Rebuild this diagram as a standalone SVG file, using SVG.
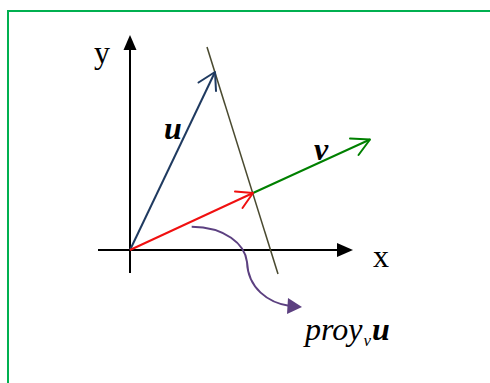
<svg xmlns="http://www.w3.org/2000/svg" width="490" height="383" viewBox="0 0 490 383">
<style>
.lbl{font-family:"Liberation Serif","Times New Roman",serif;font-size:32px;fill:#000}
.it{font-style:italic}
.bi{font-style:italic;font-weight:bold}
.open{fill:none;stroke-width:2;stroke-linecap:round;stroke-linejoin:round}
</style>
<rect x="0" y="0" width="490" height="383" fill="#fff"/>
<rect x="8" y="11" width="520" height="420" fill="none" stroke="#00b050" stroke-width="2"/>
<g id="axes">
<line x1="130" y1="273" x2="130" y2="48" stroke="#000" stroke-width="2"/>
<polygon points="130,35 123.5,50 136.5,50" fill="#000"/>
<line x1="98" y1="250" x2="340" y2="250" stroke="#000" stroke-width="2"/>
<polygon points="353,250 337,243 337,257" fill="#000"/>
<text class="lbl" x="94" y="63">y</text>
<text class="lbl" x="373" y="267">x</text>
</g>
<g id="connectors">
<line id="perp" x1="207" y1="47" x2="278" y2="274" stroke="#4a4a30" stroke-width="1.5"/>
<g id="vec-u">
<line x1="130" y1="250" x2="215" y2="72" stroke="#1f3a60" stroke-width="2"/>
<polyline class="open" points="198.5,82.5 215,72 216,91" stroke="#1f3a60"/>
</g>
<g id="vec-v">
<line x1="253" y1="193" x2="370" y2="139.5" stroke="#008000" stroke-width="2"/>
<polyline class="open" points="350,138.5 370,139.5 358.5,155" stroke="#008000"/>
</g>
<g id="vec-proj">
<line x1="130" y1="250" x2="253" y2="193" stroke="#f01010" stroke-width="2"/>
<polyline class="open" points="235,191.5 253,193 242.5,208" stroke="#f01010"/>
</g>
<g id="curve">
<path d="M191.7,226.7 C225,227 245,244 247,262 C248,288 268,303 290,306" fill="none" stroke="#5c4080" stroke-width="2"/>
<polygon points="302,307 288,298 287,314" fill="#5c4080"/>
</g>
</g>
<g id="labels">
<text class="lbl bi" x="164" y="139">u</text>
<text class="lbl bi" x="314" y="160">v</text>
<text class="lbl it" x="305" y="340">proy<tspan class="it" font-size="17" dx="1" dy="6">v</tspan><tspan class="bi" dx="1" dy="-6">u</tspan></text>
</g>
</svg>
